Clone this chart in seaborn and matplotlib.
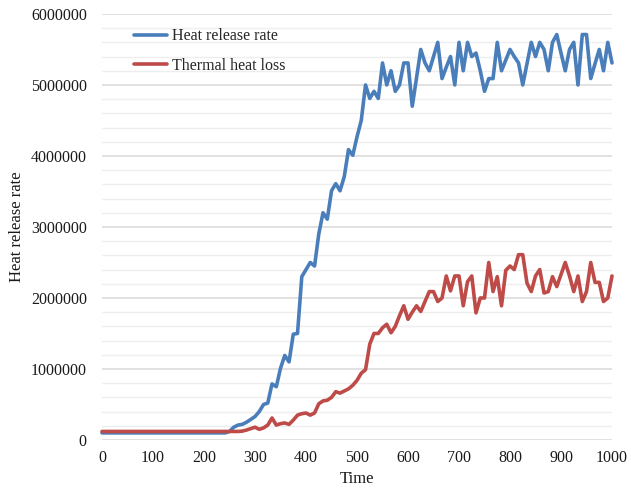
import matplotlib
matplotlib.use("Agg")
import matplotlib.pyplot as plt
from matplotlib.ticker import MultipleLocator, StrMethodFormatter
import seaborn as sns
import pandas as pd

# Simulation output times (s)
time = [
    0, 8.3, 16.7, 25, 33.3, 41.7, 50, 58.3, 66.7, 75, 83.3, 91.7,
    100, 108.3, 116.7, 125, 133.3, 141.7, 150, 158.3, 166.7, 175, 183.3, 191.7,
    200, 208.3, 216.7, 225, 233.3, 241.7, 250, 258.3, 266.7, 275, 283.3, 291.7,
    300, 308.3, 316.7, 325, 333.3, 341.7, 350, 358.3, 366.7, 375, 383.3, 391.7,
    400, 408.3, 416.7, 425, 433.3, 441.7, 450, 458.3, 466.7, 475, 483.3, 491.7,
    500, 508.3, 516.7, 525, 533.3, 541.7, 550, 558.3, 566.7, 575, 583.3, 591.7,
    600, 608.3, 616.7, 625, 633.3, 641.7, 650, 658.3, 666.7, 675, 683.3, 691.7,
    700, 708.3, 716.7, 725, 733.3, 741.7, 750, 758.3, 766.7, 775, 783.3, 791.7,
    800, 808.3, 816.7, 825, 833.3, 841.7, 850, 858.3, 866.7, 875, 883.3, 891.7,
    900, 908.3, 916.7, 925, 933.3, 941.7, 950, 958.3, 966.7, 975, 983.3, 991.7,
    1000,
]

heat_release_rate = [100000] * 30 + [
    120000, 180000, 210000, 220000, 250000, 290000, 330000, 400000, 500000, 520000,
    790000, 750000, 1010000, 1190000, 1100000, 1490000, 1500000, 2300000, 2400000, 2500000,
    2450000, 2900000, 3200000, 3110000, 3510000, 3610000, 3510000, 3710000, 4090000, 4010000,
    4270000, 4500000, 5000000, 4810000, 4910000, 4810000, 5310000, 5000000, 5200000, 4910000,
    5000000, 5310000, 5310000, 4700000, 5100000, 5500000, 5310000, 5200000, 5400000, 5600000,
    5090000, 5250000, 5400000, 5000000, 5600000, 5200000, 5600000, 5400000, 5450000, 5200000,
    4910000, 5090000, 5090000, 5600000, 5200000, 5350000, 5500000, 5400000, 5310000, 5000000,
    5300000, 5600000, 5400000, 5600000, 5500000, 5200000, 5600000, 5710000, 5450000, 5200000,
    5500000, 5600000, 5000000, 5710000, 5710000, 5090000, 5300000, 5500000, 5200000, 5600000,
    5310000,
]

thermal_heat_loss = [120000] * 33 + [
    125000, 140000, 160000, 180000, 150000, 170000, 210000,
    310000, 210000, 230000, 240000, 220000, 280000, 350000, 370000, 380000, 350000,
    380000, 510000, 550000, 560000, 600000, 680000, 660000, 690000, 720000, 770000,
    840000, 940000, 990000, 1350000, 1500000, 1500000, 1580000, 1630000, 1510000, 1600000,
    1750000, 1890000, 1700000, 1800000, 1890000, 1810000, 1950000, 2090000, 2090000, 1950000,
    2000000, 2310000, 2100000, 2310000, 2310000, 1890000, 2230000, 2310000, 1790000, 2000000,
    2000000, 2500000, 2090000, 2300000, 1890000, 2390000, 2450000, 2400000, 2610000, 2610000,
    2210000, 2090000, 2310000, 2400000, 2070000, 2090000, 2300000, 2160000, 2330000, 2500000,
    2310000, 2090000, 2310000, 1950000, 2090000, 2500000, 2220000, 2220000, 1950000, 2000000,
    2310000,
]

series_names = ["Heat release rate", "Thermal heat loss"]
series_colors = ["#4A7EBB", "#BE4B48"]

df = pd.DataFrame({
    "Time": time * 2,
    "value": heat_release_rate + thermal_heat_loss,
    "series": [series_names[0]] * len(time) + [series_names[1]] * len(time),
})

sns.set_style("white")
plt.rcParams["font.family"] = ["Liberation Serif", "DejaVu Serif"]

fig = plt.figure(figsize=(6.31, 4.88), dpi=100)
ax = fig.add_axes([0.1617, 0.0984, 0.8082, 0.8730])

sns.lineplot(
    data=df, x="Time", y="value", hue="series",
    hue_order=series_names, palette=series_colors,
    linewidth=2.6, ax=ax, sort=False,
)
for line in ax.get_lines():
    line.set_clip_on(False)

ax.set_xlim(0, 1000)
ax.set_ylim(0, 6000000)
ax.xaxis.set_major_locator(MultipleLocator(100))
ax.yaxis.set_major_locator(MultipleLocator(1000000))
ax.yaxis.set_minor_locator(MultipleLocator(200000))
ax.yaxis.set_major_formatter(StrMethodFormatter("{x:.0f}"))

ax.grid(False)
ax.grid(True, axis="y", which="major", color="#d9d9d9", linewidth=1.1)
ax.grid(True, axis="y", which="minor", color="#eeeeee", linewidth=1.0)
ax.set_axisbelow(True)
for side in ["top", "right", "left", "bottom"]:
    ax.spines[side].set_visible(False)

ax.tick_params(axis="both", which="both", length=0, labelsize=11.5, colors="#1a1a1a")
ax.tick_params(axis="y", pad=11)
ax.tick_params(axis="x", pad=7)

ax.set_xlabel("Time", fontsize=12, labelpad=4, color="#1a1a1a")
ax.set_ylabel("Heat release rate", fontsize=12, labelpad=4, color="#1a1a1a")

ax.legend(
    loc="upper left", bbox_to_anchor=(0.062, 0.966), frameon=False,
    fontsize=11.5, handlelength=2.1, handletextpad=0.3, labelspacing=0.82,
    borderpad=0, borderaxespad=0,
)

fig.savefig("out.png", dpi=100, facecolor="white")
